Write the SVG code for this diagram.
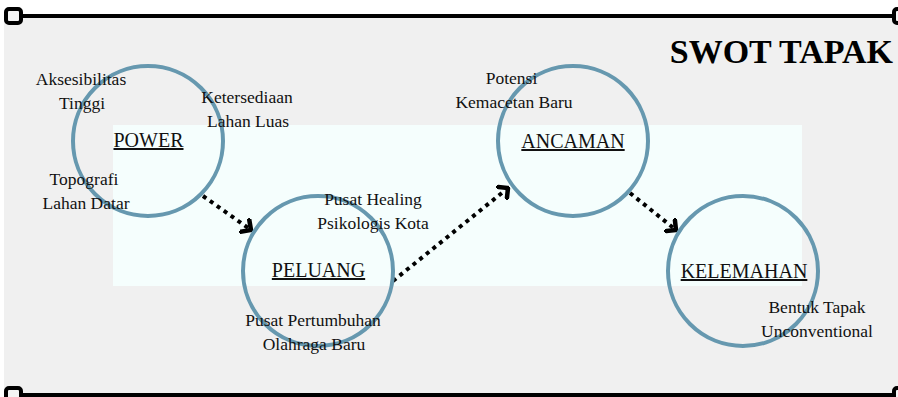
<svg xmlns="http://www.w3.org/2000/svg" width="898" height="397" viewBox="0 0 898 397">
  <style>
    .ring { fill: none; stroke: #6698af; stroke-width: 4; }
    .label { font-family: "Liberation Serif", "Times New Roman", serif; font-size: 20px; fill: #111; text-anchor: middle; text-decoration: underline; }
    .note { font-family: "Liberation Serif", "Times New Roman", serif; font-size: 17.5px; fill: #111; text-anchor: middle; }
    .title { font-family: "Liberation Serif", "Times New Roman", serif; font-size: 34px; font-weight: bold; fill: #000; text-anchor: end; }
    .flow { fill: none; stroke: #000; stroke-width: 4; stroke-dasharray: 4 4.5; marker-end: url(#chev); }
    .handle { fill: #f4f4f4; stroke: #000; stroke-width: 4; }
  </style>
  <defs>
    <marker id="chev" viewBox="-9 -9 11 18" markerWidth="11" markerHeight="18" refX="0" refY="0" orient="auto" markerUnits="userSpaceOnUse">
      <path d="M -7,-7 L 0,0 L -7,7" fill="none" stroke="#000" stroke-width="4.5" stroke-linecap="square" stroke-linejoin="miter"/>
    </marker>
  </defs>

  <!-- page -->
  <rect x="0" y="0" width="898" height="397" fill="#ffffff"/>
  <rect x="4" y="17" width="894" height="376" fill="#f0f0f0"/>
  <rect x="113" y="125" width="689" height="161" fill="#f5fefd"/>

  <!-- frame rails with handles -->
  <g id="frame">
    <line x1="20" y1="16" x2="898" y2="16" stroke="#000" stroke-width="4"/>
    <line x1="20" y1="395" x2="898" y2="395" stroke="#000" stroke-width="4"/>
    <rect class="handle" x="6" y="9" width="15" height="14" rx="3"/>
    <rect class="handle" x="894" y="9" width="15" height="14" rx="3"/>
    <rect class="handle" x="6" y="388" width="15" height="14" rx="3"/>
    <rect class="handle" x="894" y="388" width="15" height="14" rx="3"/>
  </g>

  <text class="title" x="893" y="63">SWOT TAPAK</text>

  <!-- connectors -->
  <g id="connectors">
    <line class="flow" x1="203" y1="196" x2="251" y2="230"/>
    <line class="flow" x1="393" y1="281" x2="508" y2="188"/>
    <line class="flow" x1="630" y1="193" x2="676" y2="230"/>
  </g>

  <g id="power">
    <circle class="ring" cx="148" cy="141" r="75"/>
    <text class="label" x="148.5" y="147">POWER</text>
    <text class="note" x="81" y="85">Aksesibilitas</text>
    <text class="note" x="82" y="109">Tinggi</text>
    <text class="note" x="247" y="103">Ketersediaan</text>
    <text class="note" x="248" y="127">Lahan Luas</text>
    <text class="note" x="84" y="185">Topografi</text>
    <text class="note" x="86" y="209">Lahan Datar</text>
  </g>

  <g id="peluang">
    <circle class="ring" cx="318" cy="271" r="75"/>
    <text class="label" x="318.5" y="277">PELUANG</text>
    <text class="note" x="373" y="205">Pusat Healing</text>
    <text class="note" x="373" y="229">Psikologis Kota</text>
    <text class="note" x="313" y="326">Pusat Pertumbuhan</text>
    <text class="note" x="314" y="350">Olahraga Baru</text>
  </g>

  <g id="ancaman">
    <circle class="ring" cx="573" cy="141" r="75"/>
    <text class="label" x="573" y="148">ANCAMAN</text>
    <text class="note" x="511.5" y="84">Potensi</text>
    <text class="note" x="514" y="108">Kemacetan Baru</text>
  </g>

  <g id="kelemahan">
    <circle class="ring" cx="743" cy="271" r="75"/>
    <text class="label" x="744" y="278">KELEMAHAN</text>
    <text class="note" x="817" y="313">Bentuk Tapak</text>
    <text class="note" x="817" y="337">Unconventional</text>
  </g>
</svg>
